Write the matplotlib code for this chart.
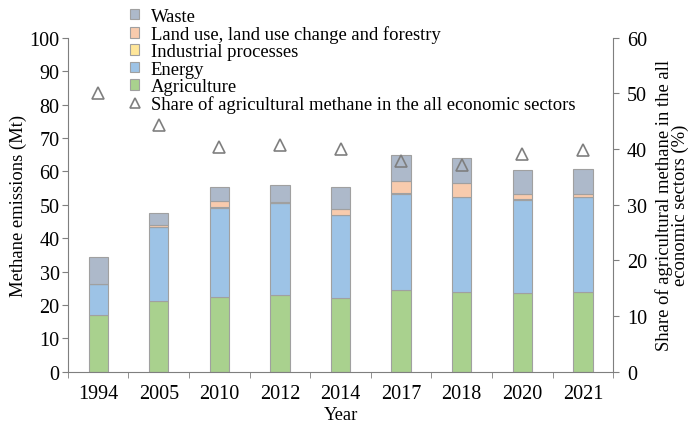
import matplotlib
matplotlib.use("Agg")
import matplotlib.pyplot as plt
from matplotlib.patches import Patch
from matplotlib.lines import Line2D
import numpy as np

plt.rcParams['font.family'] = ['Liberation Serif', 'DejaVu Serif']

years = ["1994", "2005", "2010", "2012", "2014", "2017", "2018", "2020", "2021"]
agriculture = [17.1, 21.3, 22.3, 23.0, 22.0, 24.6, 23.8, 23.6, 24.0]
energy = [9.2, 22.0, 26.8, 27.5, 24.8, 28.7, 28.5, 27.9, 28.3]
industrial = [0.0, 0.1, 0.1, 0.1, 0.1, 0.1, 0.1, 0.1, 0.1]
lulucf = [0.0, 0.6, 1.9, 0.2, 1.7, 3.7, 4.1, 1.5, 0.9]
waste = [8.2, 3.5, 4.2, 5.0, 6.7, 7.7, 7.6, 7.4, 7.5]
share = [50.0, 44.4, 40.4, 40.8, 40.0, 37.9, 37.1, 39.2, 39.9]

colors = {
    "Agriculture": "#a9d18e",
    "Energy": "#9dc3e6",
    "Industrial processes": "#ffe699",
    "Land use, land use change and forestry": "#f8cbad",
    "Waste": "#adb9ca",
}
edge = "#a0a0a0"
grey = "#7f7f7f"
tick_fs = 14.5
lab_fs = 13.4

fig = plt.figure(figsize=(7.0, 4.31), dpi=100)
ax = fig.add_axes([0.097, 0.135, 0.779, 0.775])

x = np.arange(len(years))
w = 0.32
bottom = np.zeros(len(years))
for name, vals in [("Agriculture", agriculture), ("Energy", energy),
                   ("Industrial processes", industrial),
                   ("Land use, land use change and forestry", lulucf),
                   ("Waste", waste)]:
    ax.bar(x, vals, w, bottom=bottom, color=colors[name], edgecolor=edge, linewidth=0.8)
    bottom += np.array(vals)

ax.set_xlim(-0.5, 8.5)
ax.set_ylim(0, 100)
ax.set_yticks(range(0, 101, 10))
ax.set_xticks(x)
ax.set_xticklabels(years)
ax.set_xticks(np.arange(-0.5, 9, 1), minor=True)
ax.tick_params(axis="x", which="major", length=0, labelsize=tick_fs, pad=9)
ax.tick_params(axis="x", which="minor", length=4, color=grey, direction="out")
ax.tick_params(axis="y", labelsize=tick_fs, length=4, color=grey, direction="out", pad=2)
ax.set_ylabel("Methane emissions (Mt)", fontsize=lab_fs, labelpad=2)
ax.set_xlabel("Year", fontsize=lab_fs, labelpad=2)
for s in ["top", "right"]:
    ax.spines[s].set_visible(False)
for s in ["left", "bottom"]:
    ax.spines[s].set_color(grey)

ax2 = ax.twinx()
ax2.set_ylim(0, 60)
ax2.set_yticks(range(0, 61, 10))
ax2.plot(x, share, linestyle="none", marker="^", markersize=8,
         markerfacecolor="none", markeredgecolor=grey, markeredgewidth=1.2)
ax2.tick_params(axis="y", labelsize=tick_fs, length=4, color=grey, direction="out", pad=6)
ax2.set_ylabel("Share of agricultural methane in the all\neconomic sectors (%)",
               fontsize=lab_fs, linespacing=0.9, labelpad=6)
for s in ["top", "left", "bottom"]:
    ax2.spines[s].set_visible(False)
ax2.spines["right"].set_color(grey)

handles = [Patch(facecolor=colors[n], edgecolor=edge, linewidth=0.8) for n in
           ["Waste", "Land use, land use change and forestry", "Industrial processes",
            "Energy", "Agriculture"]]
handles.append(Line2D([], [], linestyle="none", marker="^", markersize=6.5,
                      markerfacecolor="none", markeredgecolor=grey, markeredgewidth=1.2))
labels = ["Waste", "Land use, land use change and forestry", "Industrial processes",
          "Energy", "Agriculture", "Share of agricultural methane in the all economic sectors"]
fig.legend(handles, labels, loc="upper left", bbox_to_anchor=(0.178, 0.993),
           frameon=False, fontsize=lab_fs, labelspacing=0.02, handlelength=0.5,
           handleheight=0.5, handletextpad=0.6, borderpad=0.0, borderaxespad=0.3)

fig.savefig("out.png", dpi=100)
